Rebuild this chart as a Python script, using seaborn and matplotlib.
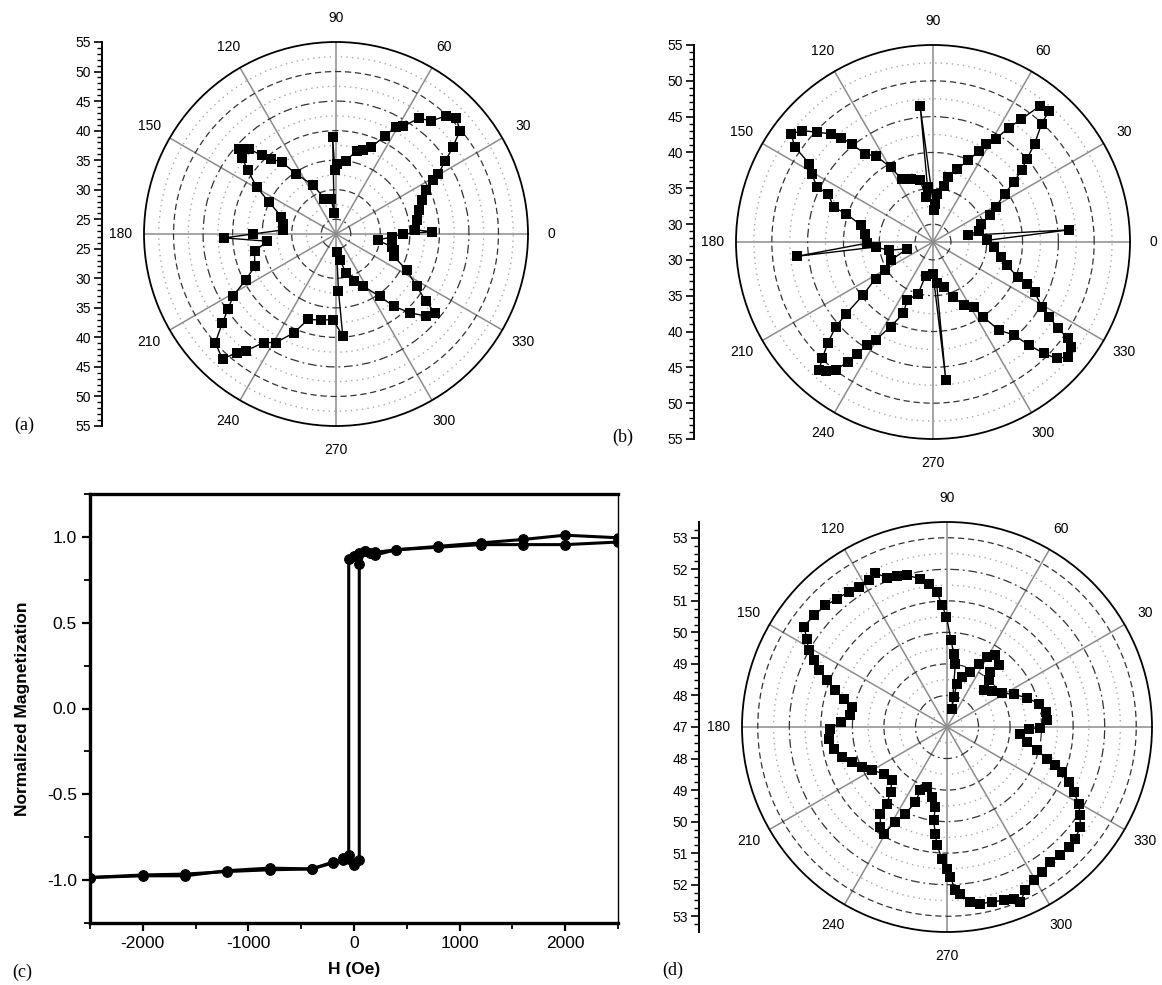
"""Angular dependence panels (a, b, d) and hysteresis loop (c)."""

import matplotlib

matplotlib.use("Agg")
import matplotlib.pyplot as plt
import numpy as np
import seaborn as sns
from matplotlib.ticker import FormatStrFormatter, MultipleLocator

W, H = 1162, 985

# panel (a): angle in degrees, value on radial scale
A_THETA = [0, 1.4, 3, 9.7, 16, 21.4, 26, 28.9, 30.5, 33.8,
           36.6, 39.8, 44, 47, 50, 54.4, 58, 60.8, 63.5, 68,
           72, 76, 82.5, 89.4, 91, 92, 95, 97.5, 108, 115,
           123.8, 127, 131, 133.4, 135.6, 138.8, 141, 144, 149.4, 154.4,
           162.4, 169, 175.6, 180, 182, 186, 192, 201.7, 206.9, 211,
           214.9, 218, 222, 227.8, 230, 232.3, 236.3, 241, 246.9, 251.9,
           259.9, 268, 273.8, 272.5, 272, 279, 284, 291, 297.7, 305,
           308.7, 313.2, 317.6, 321.5, 323.2, 327, 333, 338.8, 344.6, 347,
           351.8, 357, 360]
A_R = [33.8, 38.8, 35.9, 36.4, 37.1, 38.2, 39.4, 41.3, 42.6, 44.8,
       47.1, 49.8, 50.8, 49.8, 47.5, 46.6, 44.0, 43.2, 41.1, 38.3,
       37.5, 37.0, 35.0, 34.4, 33.3, 39.0, 26.0, 28.5, 28.8, 31.6,
       34.8, 37.8, 39.3, 40.8, 43.1, 44.4, 43.0, 41.0, 38.1, 35.1,
       32.2, 31.6, 31.5, 36.6, 41.4, 34.2, 36.6, 37.3, 39.6, 42.8,
       44.8, 46.9, 50.0, 51.1, 48.7, 47.5, 44.6, 43.5, 40.7, 37.7,
       37.3, 37.0, 39.8, 32.2, 25.5, 26.9, 29.3, 31.0, 32.5, 35.4,
       38.2, 40.8, 43.1, 43.9, 41.5, 38.8, 35.9, 33.0, 32.6, 32.2,
       29.6, 32.0, 33.8]

# panel (b)
B_THETA = [1.7, 5.1, 10.8, 14, 21, 25, 29, 34, 36.5, 39,
           41.5, 44, 47.4, 48.5, 51.9, 54.3, 56.5, 58.7, 61.4, 63.2,
           66.7, 71.9, 77, 79, 85.6, 87, 88, 95.4, 95.7, 99,
           101.8, 109, 116.4, 119.6, 123.5, 127.7, 129.6, 131.3, 133.2, 136.6,
           139.6, 142.7, 145.5, 147.7, 150.7, 154.7, 155.3, 160.7, 162, 167,
           173, 181, 186, 185, 190.6, 194.5, 203.4, 210.5, 212.5, 217.2,
           219.6, 221, 223.9, 226.4, 228.3, 230.5, 232.7, 234.7, 235.9, 237.3,
           239.7, 243.4, 247.5, 246, 254, 257.6, 270, 275.3, 275, 283.8,
           290, 296.4, 302, 303.6, 306.9, 311, 312.9, 314.8, 316.7, 319.5,
           322.9, 324.4, 325.4, 327.2, 329.2, 333.8, 336.1, 337.6, 342.5, 347.6,
           355.4, 1.7]
B_R = [35.0, 46.6, 32.5, 34.1, 34.7, 36.3, 37.5, 39.6, 41.5, 43.4,
       45.0, 47.2, 49.9, 51.9, 51.6, 48.6, 46.6, 44.3, 43.1, 41.8,
       39.9, 38.2, 36.8, 35.5, 34.2, 32.8, 31.9, 46.6, 35.2, 33.9,
       36.3, 36.8, 37.3, 39.5, 41.9, 43.0, 45.2, 46.9, 48.2, 49.8,
       51.5, 52.4, 50.9, 47.9, 46.9, 45.4, 43.6, 42.2, 40.2, 37.8,
       37.1, 36.7, 46.6, 35.5, 33.8, 31.2, 33.9, 35.3, 37.0, 39.8,
       43.2, 45.5, 47.9, 49.9, 51.4, 50.9, 49.9, 48.0, 46.3, 44.6,
       43.3, 40.7, 38.3, 36.4, 35.0, 32.3, 31.9, 46.8, 33.3, 34.0,
       35.7, 37.3, 38.2, 40.0, 42.9, 44.7, 47.1, 49.4, 51.2, 52.2,
       51.7, 50.6, 48.7, 46.8, 45.2, 43.3, 41.9, 40.3, 38.3, 37.2,
       36.0, 35.0]

# panel (d)
D_THETA = [45.0, 48.3, 51.8, 50.1, 56.0, 60.2, 63.5, 67.0, 73.3, 77.0,
           77.3, 74.9, 82.5, 84.8, 87.3, 90.3, 92.3, 94.3, 97.3, 100.2,
           104.8, 108.4, 111.9, 115.0, 118.1, 122.3, 126.0, 130.6, 135.0, 140.0,
           145.0, 147.8, 151.0, 153.4, 156.2, 158.7, 161.8, 164.7, 168.0, 173.1,
           177.4, 180.8, 185.6, 190.8, 195.9, 200.3, 205.2, 210.0, 216.4, 224.1,
           229.0, 231.9, 232.5, 236.3, 239.3, 241.4, 244.4, 247.2, 247.2, 251.5,
           257.9, 261.7, 261.9, 263.7, 265.2, 267.8, 270.0, 271.3, 272.9, 274.6,
           277.6, 280.7, 284.4, 288.1, 291.2, 292.7, 295.6, 299.5, 303.2, 307.4,
           311.5, 315.4, 318.9, 323.1, 326.4, 329.8, 332.8, 335.7, 338.6, 340.5,
           342.5, 345.4, 349.4, 354.8, 358.8, 359.6, 3.9, 8.7, 14.3, 20.1,
           26.1, 31.8, 38.3, 45.0]
D_R = [48.64, 48.98, 49.22, 49.55, 49.74, 49.55, 49.24, 48.89, 48.66, 48.41,
       47.97, 47.60, 49.03, 49.34, 49.75, 50.49, 50.86, 51.29, 51.58, 51.78,
       51.97, 52.03, 52.10, 52.39, 52.27, 52.25, 52.30, 52.36, 52.45, 52.51,
       52.54, 52.25, 52.02, 51.72, 51.45, 51.08, 50.73, 50.40, 50.08, 50.09,
       50.38, 50.70, 50.77, 50.66, 50.46, 50.21, 49.98, 49.75, 49.49, 49.43,
       49.73, 50.09, 50.47, 50.81, 50.93, 50.43, 50.05, 49.58, 49.18, 49.01,
       49.27, 49.56, 49.99, 50.40, 50.76, 51.18, 51.49, 51.76, 52.19, 52.30,
       52.60, 52.70, 52.73, 52.78, 52.84, 53.02, 52.74, 52.59, 52.50, 52.39,
       52.43, 52.42, 52.40, 52.28, 52.07, 51.83, 51.52, 51.23, 50.92, 50.64,
       50.33, 49.95, 49.58, 49.34, 49.59, 49.96, 50.18, 50.16, 50.00, 49.70,
       49.35, 49.05, 48.82, 48.64]

# panel (c): hysteresis loop, field in Oe
H_UP = [-2500, -2000, -1600, -1200, -800, -400, -200, -100, -50, 0,
        50, 50, 100, 150, 200, 400, 800, 1200, 1600, 2000, 2500]
M_UP = [-0.985, -0.975, -0.975, -0.945, -0.93, -0.935, -0.895, -0.885, -0.875, -0.91,
        -0.88, 0.84, 0.915, 0.905, 0.895, 0.925, 0.94, 0.955, 0.955, 0.955, 0.97]
H_DOWN = [2500, 2000, 1600, 1200, 800, 400, 200, 100, 50, 0,
          -50, -50, -100, -200, -400, -800, -1200, -1600, -2000, -2500]
M_DOWN = [0.995, 1.01, 0.985, 0.965, 0.945, 0.925, 0.91, 0.92, 0.905, 0.89,
          0.87, -0.855, -0.87, -0.9, -0.935, -0.94, -0.95, -0.965, -0.97, -0.985]

ANGLE_LABELS = [str(a) for a in range(0, 360, 30)]

sns.set_theme(style="ticks")
plt.rcParams["font.family"] = ["Liberation Sans", "DejaVu Sans"]
plt.rcParams["axes.unicode_minus"] = False
for key in ["text.color", "axes.labelcolor", "xtick.color", "ytick.color", "axes.edgecolor"]:
    plt.rcParams[key] = "black"

fig = plt.figure(figsize=(W / 100, H / 100), dpi=100)


def px_rect(left, top, width, height):
    return [left / W, 1 - (top + height) / H, width / W, height / H]


def polar_panel(cx, cy, rad, theta_deg, r, rmin, rmax, grid_vals, major_vals):
    ax = fig.add_axes(px_rect(cx - rad, cy - rad, 2 * rad, 2 * rad), projection="polar")
    sns.lineplot(
        x=np.deg2rad(theta_deg), y=r, ax=ax, sort=False, estimator=None,
        color="black", lw=1.0, marker="s", markersize=7.6, markeredgewidth=0,
        markerfacecolor="black",
    )
    ax.set_rlim(rmin, rmax)
    ax.grid(True)
    ax.set_thetagrids(range(0, 360, 30), labels=ANGLE_LABELS, fontsize=10)
    ax.set_rgrids(grid_vals, labels=[""] * len(grid_vals))
    for line in ax.xaxis.get_gridlines():
        line.set_color("#8c8c8c")
        line.set_linestyle("-")
        line.set_linewidth(1.1)
    # dotted grey for half steps, alternating dashed / dash-dot for majors
    k = 0
    for val, line in reversed(list(zip(grid_vals, ax.yaxis.get_gridlines()))):
        if any(abs(val - m) < 1e-6 for m in major_vals):
            line.set_color("#333333")
            line.set_linestyle((0, (5, 3)) if k % 2 == 0 else (0, (7, 3, 1.5, 3)))
            line.set_linewidth(0.9)
            k += 1
        else:
            line.set_color("#a8a8a8")
            line.set_linestyle((0, (1, 3)))
            line.set_linewidth(1.0)
    ax.spines["polar"].set_linewidth(1.3)
    ax.spines["polar"].set_color("black")
    ax.tick_params(axis="x", pad=4)
    ax.set_xlabel("")
    ax.set_ylabel("")
    return ax


def radial_scale(x, cy, rad, rmin, rmax, label_vals, minor_vals):
    ax = fig.add_axes(px_rect(x, cy - rad, 1, 2 * rad))
    span = rmax - rmin
    ax.set_ylim(-span, span)
    pos, labs = [], []
    for v in label_vals:
        d = v - rmin
        if abs(d) < 1e-9:
            pos.append(0.0)
            labs.append(f"{v:g}")
        else:
            pos += [d, -d]
            labs += [f"{v:g}", f"{v:g}"]
    ax.set_yticks(pos, labs)
    mpos = []
    for v in minor_vals:
        d = v - rmin
        mpos += [d, -d]
    ax.set_yticks(mpos, minor=True)
    ax.set_xticks([])
    for s in ["top", "right", "bottom"]:
        ax.spines[s].set_visible(False)
    ax.spines["left"].set_linewidth(1.4)
    ax.tick_params(axis="y", which="major", direction="out", length=6, width=1.2,
                   labelsize=10, pad=2)
    ax.tick_params(axis="y", which="minor", direction="out", length=3.5, width=1.0)
    ax.patch.set_alpha(0)
    return ax


# (a)
polar_panel(336, 234, 192, A_THETA, A_R, 22.5, 55,
            np.arange(25, 54, 2.5), np.arange(25, 54, 5))
radial_scale(102, 234, 192, 22.5, 55, range(25, 56, 5), range(23, 56))

# (b)
polar_panel(933, 242, 197, B_THETA, B_R, 27.5, 55,
            np.arange(30, 54, 2.5), np.arange(30, 54, 5))
radial_scale(694, 242, 197, 27.5, 55, range(30, 56, 5), range(28, 56))

# (d)
polar_panel(947, 727, 205, D_THETA, D_R, 47, 53.5,
            np.arange(47.5, 53.1, 0.5), np.arange(48, 53.1, 1))
radial_scale(699, 727, 205, 47, 53.5, range(47, 54), np.arange(47.25, 53.5, 0.25))

# (c)
axc = fig.add_axes(px_rect(90, 494, 528, 429))
for hx, my in [(H_UP, M_UP), (H_DOWN, M_DOWN)]:
    sns.lineplot(x=hx, y=my, ax=axc, sort=False, estimator=None, color="black",
                 lw=2.2, marker="o", markersize=7, markeredgecolor="black")
axc.set_xlim(-2500, 2500)
axc.set_ylim(-1.25, 1.25)
axc.xaxis.set_major_locator(MultipleLocator(1000))
axc.xaxis.set_minor_locator(MultipleLocator(500))
axc.yaxis.set_major_locator(MultipleLocator(0.5))
axc.yaxis.set_minor_locator(MultipleLocator(0.25))
axc.yaxis.set_major_formatter(FormatStrFormatter("%.1f"))
axc.tick_params(which="major", direction="out", length=6, width=1.6, labelsize=12.5)
axc.tick_params(which="minor", direction="out", length=4, width=1.3)
for s in ["left", "bottom", "top"]:
    axc.spines[s].set_linewidth(2.4)
axc.spines["right"].set_linewidth(1.0)
axc.set_xlabel("H (Oe)", fontsize=12.5, fontweight="bold", labelpad=8)
axc.set_ylabel("Normalized Magnetization", fontsize=12.5, fontweight="bold", labelpad=12)

# panel letters
for txt, x, y in [("(a)", 14, 425), ("(b)", 612, 437), ("(c)", 12, 972), ("(d)", 662, 970)]:
    fig.text(x / W, 1 - y / H, txt, fontsize=13, family=["Liberation Serif", "DejaVu Serif"],
             va="center", ha="left")

fig.savefig("out.png", dpi=100, facecolor="white")
